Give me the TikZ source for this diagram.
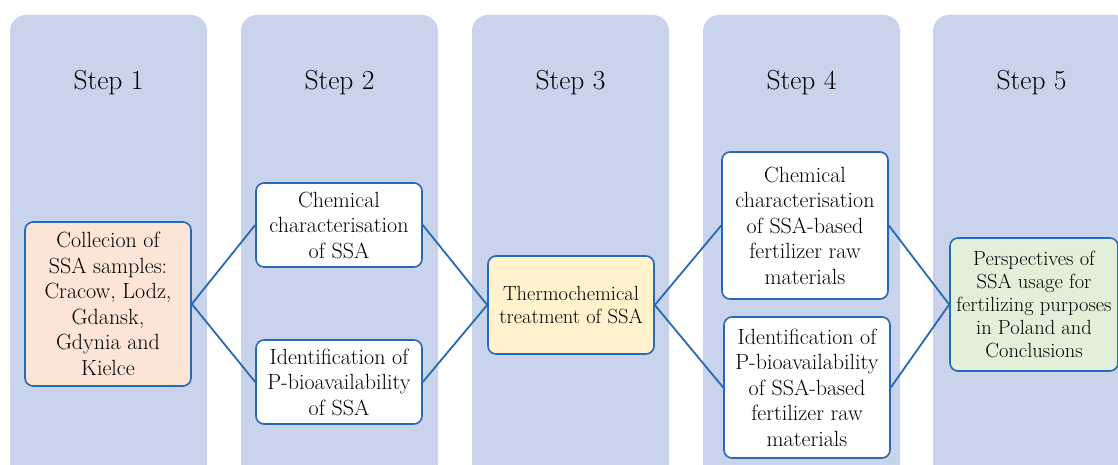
\documentclass[tikz,border=0pt]{standalone}
\usetikzlibrary{positioning}

\definecolor{panelblue}{RGB}{202,211,236}
\definecolor{lineblue}{RGB}{38,106,182}
\definecolor{peach}{RGB}{252,228,214}
\definecolor{cream}{RGB}{255,242,204}
\definecolor{mint}{RGB}{226,240,217}

\tikzset{
	box/.style={draw=lineblue, line width=1.6pt, rounded corners=8pt, fill=white, align=center, inner sep=0pt, minimum width=166pt, font=\fontsize{22}{25.5}\selectfont},
	smallbox/.style={box, font=\fontsize{20.5}{23}\selectfont},
	link/.style={lineblue, line width=1.8pt},
	steptitle/.style={font=\fontsize{27.5}{32}\selectfont}
}

\begin{document}
\begin{tikzpicture}[x=1pt,y=1pt,yscale=-1,xscale=1]
	\useasboundingbox (0,0) rectangle (1118,465);
	\clip (0,0) rectangle (1118,465);
	
	%Shapes: background columns
	\foreach \i/\xl in {1/10,2/241,3/472,4/703,5/933}{
		\fill[panelblue, rounded corners=16pt] (\xl,15) rectangle ++(197,465);
		\node[steptitle] (step\i) at (\xl+98.5,83) {Step \i};
	}
	
	% Text Node
	\node[box, fill=peach, minimum height=164pt] (collect) at (108,304) {Collecion of\\SSA samples:\\Cracow, Lodz,\\Gdansk,\\Gdynia and\\Kielce};
	% Text Node
	\node[box, minimum height=84pt] (chem) at (339,225) {Chemical\\characterisation\\of SSA};
	% Text Node
	\node[box, minimum height=84pt] (ident) at (339,382) {Identification of\\P-bioavailability\\of SSA};
	% Text Node
	\node[smallbox, fill=cream, minimum height=98pt] (thermo) at (571,305) {Thermochemical\\treatment of SSA};
	% Text Node
	\node[box, minimum height=147pt] (chemfert) at (805,225.5) {Chemical\\characterisation\\of SSA-based\\fertilizer raw\\materials};
	% Text Node
	\node[box, minimum height=141pt] (identfert) at (807,387.5) {Identification of\\P-bioavailability\\of SSA-based\\fertilizer raw\\materials};
	% Text Node
	\node[smallbox, fill=mint, minimum width=168pt, minimum height=133pt] (persp) at (1034,304.5) {Perspectives of\\SSA usage for\\fertilizing purposes\\in Poland and\\Conclusions};
	
	%Straight Lines
	\draw[link] (collect.east) -- (chem.west);
	\draw[link] (collect.east) -- (ident.west);
	\draw[link] (chem.east) -- (thermo.west);
	\draw[link] (ident.east) -- (thermo.west);
	\draw[link] (thermo.east) -- (chemfert.west);
	\draw[link] (thermo.east) -- (identfert.west);
	\draw[link] (chemfert.east) -- (persp.west);
	\draw[link] (identfert.east) -- (persp.west);
\end{tikzpicture}
\end{document}
